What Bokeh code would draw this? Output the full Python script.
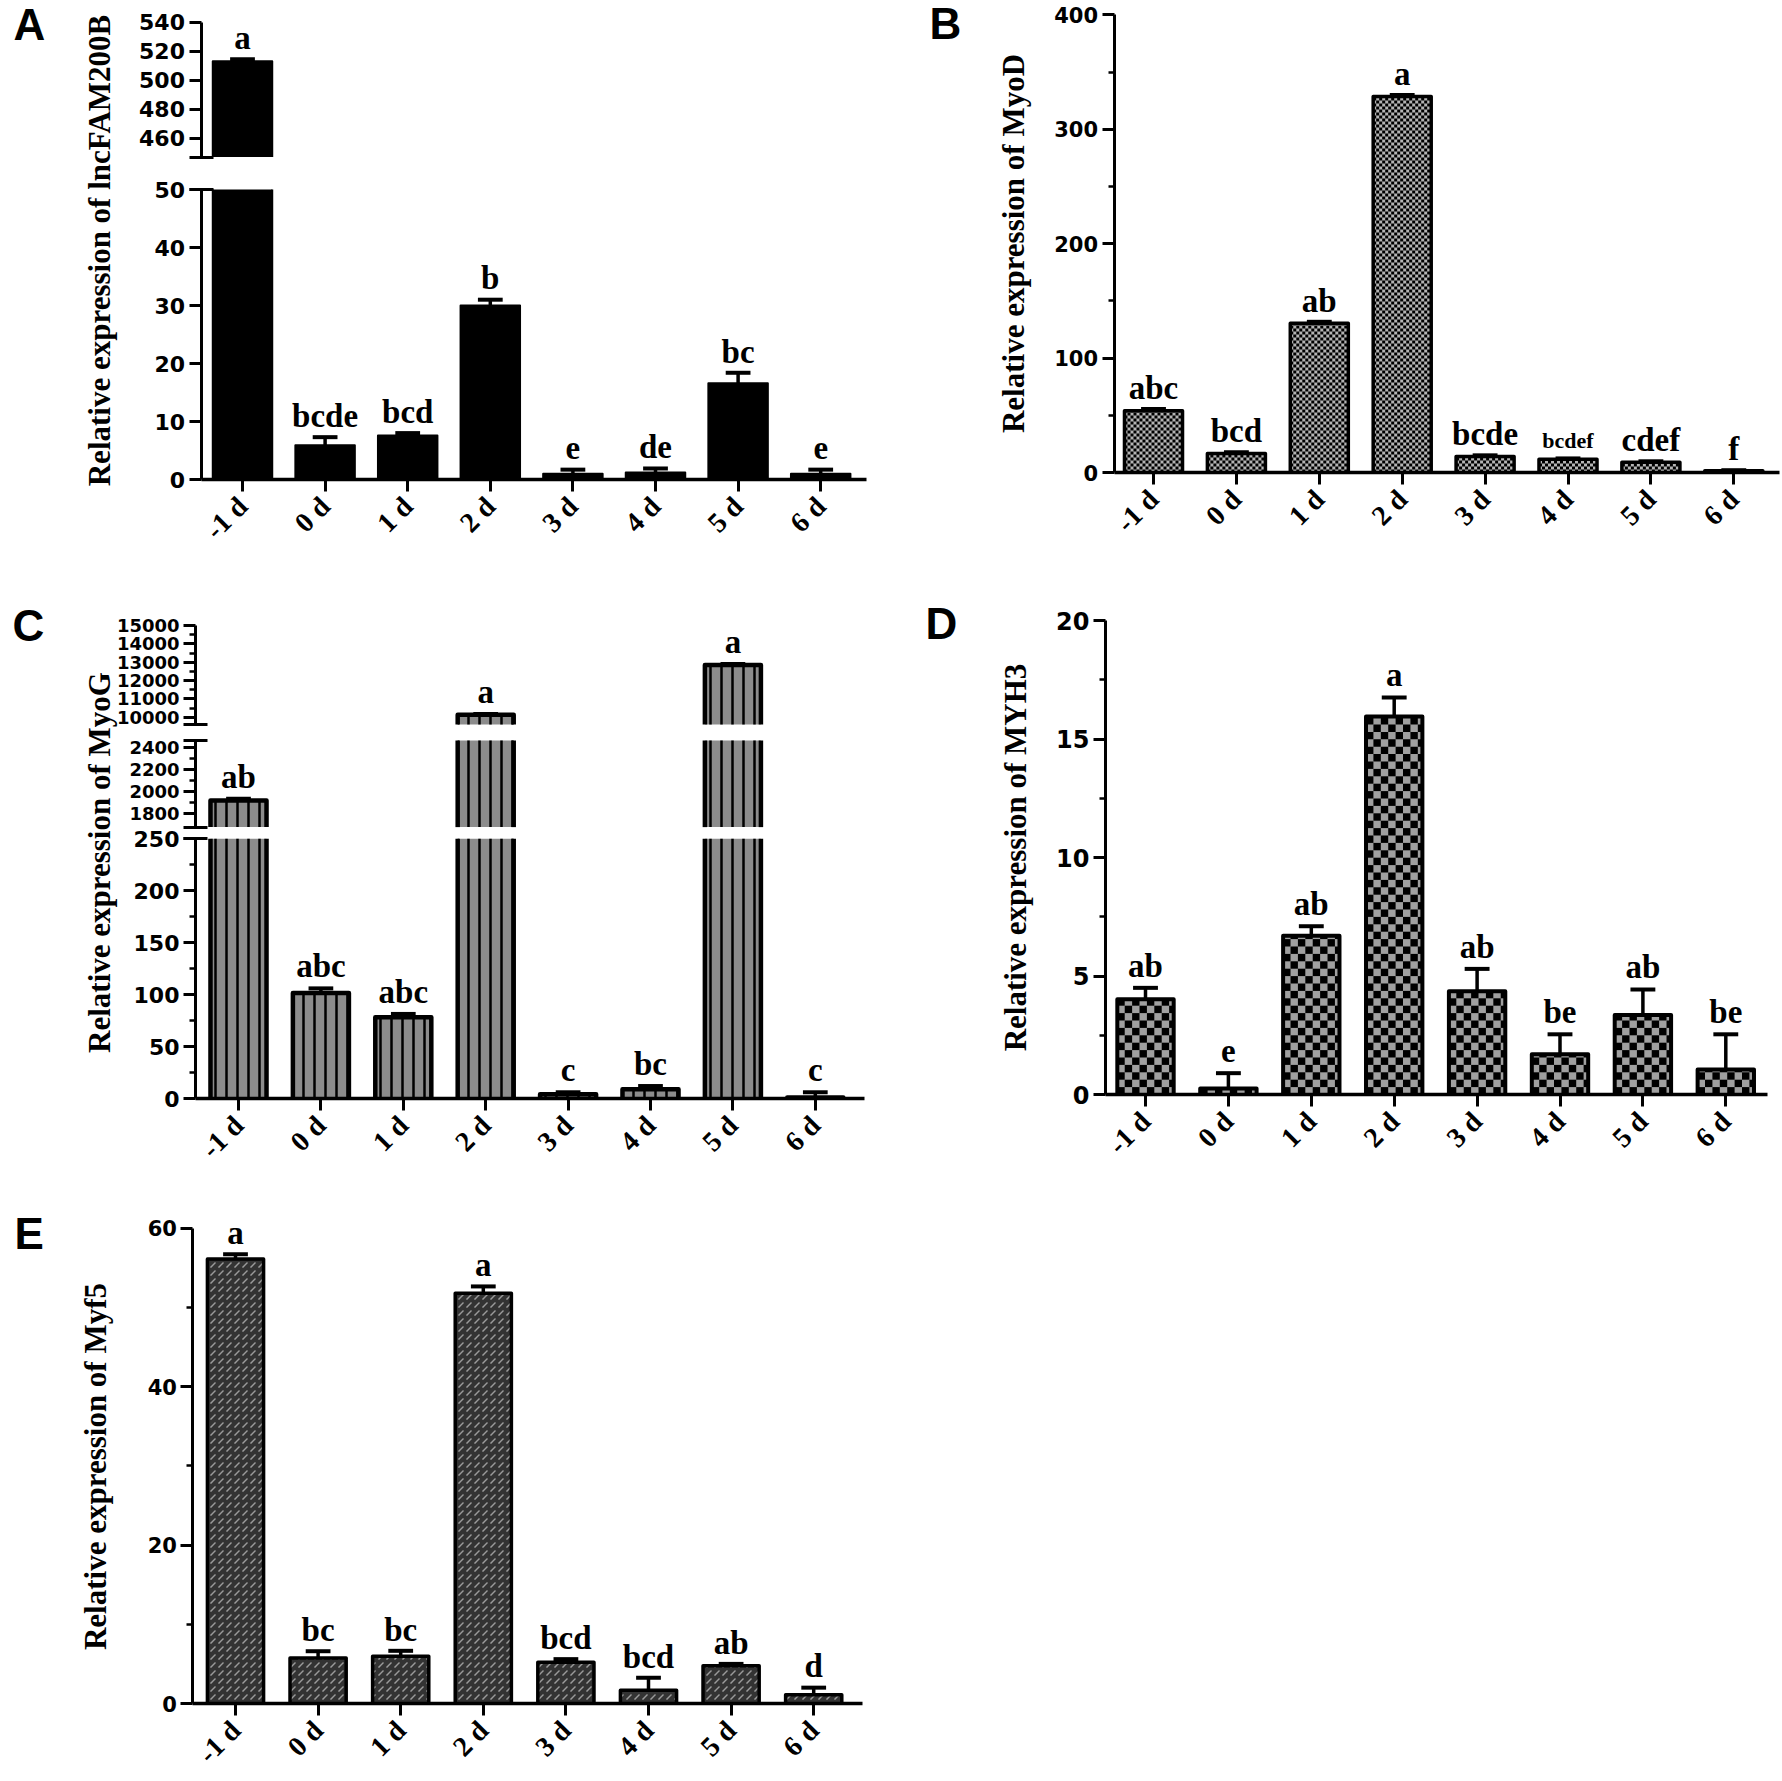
import math
from bokeh.plotting import figure
from bokeh.layouts import row, column
from bokeh.models import Range1d, LinearAxis, FixedTicker, Label, ColumnDataSource
from bokeh.core.properties import value, field
from bokeh.embed import file_html
from bokeh.resources import INLINE

# ---------------- data ----------------
days = ["-1 d", "0 d", "1 d", "2 d", "3 d", "4 d", "5 d", "6 d"]

lnc_mean = [513.0, 5.9, 7.6, 30.0, 1.0, 1.2, 16.6, 1.0]
lnc_sem = [1.5, 1.4, 0.4, 1.0, 0.7, 0.7, 1.8, 0.7]
lnc_letters = ["a", "bcde", "bcd", "b", "e", "de", "bc", "e"]
lnc_ticks_upper = [460, 480, 500, 520, 540]
lnc_ticks_lower = [0, 10, 20, 30, 40, 50]

myod_mean = [54.0, 16.5, 130.5, 328.5, 14.0, 11.5, 9.0, 1.5]
myod_sem = [1.5, 1.2, 1.2, 1.5, 1.0, 0.8, 0.8, 0.5]
myod_letters = ["abc", "bcd", "ab", "a", "bcde", "bcdef", "cdef", "f"]
myod_ticks = [0, 100, 200, 300, 400]
myod_minor = [50, 150, 250, 350]

myog_mean = [1920.0, 101.6, 78.2, 10130.0, 4.0, 9.0, 12850.0, 1.0]
myog_sem = [15.0, 4.4, 3.2, 40.0, 2.0, 3.0, 50.0, 5.0]
myog_letters = ["ab", "abc", "abc", "a", "c", "bc", "a", "c"]
myog_ticks_top = [10000, 11000, 12000, 13000, 14000, 15000]
myog_minor_top = [10500, 11500, 12500, 13500, 14500]
myog_ticks_mid = [1800, 2000, 2200, 2400]
myog_minor_mid = [1900, 2100, 2300]
myog_ticks_low = [0, 50, 100, 150, 200, 250]
myog_minor_low = [25, 75, 125, 175, 225]

myh3_mean = [4.02, 0.25, 6.7, 15.95, 4.36, 1.7, 3.35, 1.05]
myh3_sem = [0.48, 0.65, 0.40, 0.80, 0.94, 0.84, 1.08, 1.49]
myh3_letters = ["ab", "e", "ab", "a", "ab", "be", "ab", "be"]
myh3_ticks = [0, 5, 10, 15, 20]
myh3_minor = [2.5, 7.5, 12.5, 17.5]

myf5_mean = [56.1, 5.74, 5.98, 51.8, 5.2, 1.67, 4.77, 1.1]
myf5_sem = [0.6, 0.86, 0.67, 0.85, 0.4, 1.58, 0.23, 0.9]
myf5_letters = ["a", "bc", "bc", "a", "bcd", "bcd", "ab", "d"]
myf5_ticks = [0, 20, 40, 60]
myf5_minor = [10, 30, 50]

# ---------------- helpers ----------------
SERIF = "Liberation Serif"
SANS = "DejaVu Sans"
HEAD = "Liberation Sans"
MID = 0.34  # distance baseline -> em middle, in em


def ppu(cal):
    v1, y1, v2, y2 = cal
    return (y1 - y2) / (v2 - v1)


def yrange(cal, top, bottom):
    v1, y1, v2, y2 = cal
    k = ppu(cal)
    return Range1d(start=v1 - (bottom - y1) / k, end=v1 + (y1 - top) / k)


def screen_to_y(cal, sy):
    v1, y1, _, _ = cal
    return v1 + (y1 - sy) / ppu(cal)


def build(letter, title, means, sems, sig, segs, L, st):
    fx, fy, W, H = L["box"]
    t0, dx = L["tick0"], L["dx"]

    def to_x(sx):
        return (sx - t0) / dx

    xr = Range1d(start=to_x(fx), end=to_x(fx + W))
    p = figure(width=W, height=H, x_range=xr, y_range=yrange(segs[0]["cal"], fy, fy + H),
               output_backend="svg", toolbar_location=None,
               x_axis_location=None, y_axis_location=None,
               min_border_left=0, min_border_right=0, min_border_top=0, min_border_bottom=0)
    p.outline_line_color = None
    p.grid.visible = False
    if len(segs) > 1:
        p.extra_y_ranges = {s["name"]: yrange(s["cal"], fy, fy + H) for s in segs[1:]}

    axis_x = to_x(L["axis_x"])

    # y axes, one per segment of the broken axis
    for s in segs:
        ax = LinearAxis(y_range_name=s["name"], fixed_location=axis_x,
                        bounds=(s["lo"], s["hi"]),
                        ticker=FixedTicker(ticks=s["ticks"], minor_ticks=s["minor"]),
                        axis_line_width=3, axis_line_color="black",
                        major_tick_line_width=3, major_tick_out=12, major_tick_in=0,
                        minor_tick_line_width=2.5, minor_tick_out=6, minor_tick_in=0,
                        major_label_standoff=4,
                        major_label_text_font=SANS, major_label_text_font_style="bold",
                        major_label_text_font_size=s["fs"], major_label_text_color="black")
        p.add_layout(ax, "left")
        if s.get("breaks"):
            bx = LinearAxis(y_range_name=s["name"], fixed_location=axis_x,
                            bounds=(s["lo"], s["hi"]),
                            ticker=FixedTicker(ticks=s["breaks"], minor_ticks=[]),
                            axis_line_alpha=0, major_tick_line_width=3,
                            major_tick_out=12, major_tick_in=12,
                            minor_tick_line_alpha=0,
                            major_label_overrides={b: "" for b in s["breaks"]})
            p.add_layout(bx, "left")

    # x axis at y = 0
    xa = LinearAxis(fixed_location=0, bounds=(axis_x, to_x(L["x_end"])),
                    ticker=FixedTicker(ticks=list(range(len(days))), minor_ticks=[]),
                    major_label_overrides={i: d for i, d in enumerate(days)},
                    major_label_orientation=math.pi / 4,
                    major_label_text_font=SERIF, major_label_text_font_style="bold",
                    major_label_text_font_size="28px", major_label_text_color="black",
                    major_label_standoff=10,
                    axis_line_width=3.5, axis_line_color="black",
                    major_tick_line_width=3, major_tick_out=12, major_tick_in=0,
                    minor_tick_line_alpha=0)
    p.add_layout(xa, "below")

    w = st["w"]
    fill_kw = dict(fill_color=st["fill"], line_alpha=0)
    if st.get("hatch"):
        fill_kw.update(hatch_pattern=value(st["hatch"]), hatch_scale=st["hscale"],
                       hatch_weight=st.get("hweight", 1.0), hatch_color=st.get("hcolor", "black"))

    def seg_index(v):
        for k, s in enumerate(segs):
            if v <= s["hi"] and (v >= s["lo"] or k == 0):
                return k
        return len(segs) - 1

    for k, s in enumerate(segs):
        xs, bots, tops, ox, oy = [], [], [], [], []
        for i, v in enumerate(means):
            if k > 0 and v <= s["lo"]:
                continue
            bot = s["lo"]
            top = min(v, s["hi"])
            xs.append(i)
            bots.append(bot)
            tops.append(top)
            x0, x1 = i - w / 2, i + w / 2
            if v <= s["hi"]:
                ox.append([x0, x0, x1, x1])
                oy.append([bot, top, top, bot])
            else:
                ox += [[x0, x0], [x1, x1]]
                oy += [[bot, top], [bot, top]]
        if not xs:
            continue
        p.vbar(x=xs, bottom=bots, top=tops, width=w, y_range_name=s["name"], **fill_kw)

        # checkerboard texture (cells of fixed pixel size)
        if st.get("checker"):
            cw = st["checker"] / dx
            ch = st["checker"] / ppu(s["cal"])
            ql, qr, qb, qt = [], [], [], []
            for i, bot, top in zip(xs, bots, tops):
                left, right = i - w / 2, i + w / 2
                ncol = int(math.ceil((right - left) / cw))
                nrow = int(math.ceil((top - bot) / ch))
                for r in range(nrow):
                    for c in range(ncol):
                        if (r + c) % 2 == 0:
                            ql.append(left + c * cw)
                            qr.append(min(left + (c + 1) * cw, right))
                            qb.append(bot + r * ch)
                            qt.append(min(bot + (r + 1) * ch, top))
            p.quad(left=ql, right=qr, bottom=qb, top=qt, y_range_name=s["name"],
                   fill_color="black", line_alpha=0)

        p.multi_line(ox, oy, y_range_name=s["name"], line_color="black",
                     line_width=st["lw"], line_join="round")

        # error bars (upper half)
        ex, ey0, ey1, cx0, cx1 = [], [], [], [], []
        for i, (v, e) in enumerate(zip(means, sems)):
            if seg_index(v) == k:
                ex.append(i); ey0.append(v); ey1.append(v + e)
                cx0.append(i - st["cap"] / 2); cx1.append(i + st["cap"] / 2)
        if ex:
            p.segment(x0=ex, y0=ey0, x1=ex, y1=ey1, y_range_name=s["name"],
                      line_color="black", line_width=3.5)
            p.segment(x0=cx0, y0=ey1, x1=cx1, y1=ey1, y_range_name=s["name"],
                      line_color="black", line_width=4)

    # significance letters, floated a fixed pixel gap above the error bar
    gap = st["gap"]
    for k, s in enumerate(segs):
        tx, ty, tt, tf = [], [], [], []
        for i, (v, e, t) in enumerate(zip(means, sems, sig)):
            if seg_index(v + e) == k:
                size = st["sig_small"] if len(t) >= 5 else st["sig_fs"]
                tx.append(i)
                ty.append(v + e + (gap + MID * size) / ppu(s["cal"]))
                tt.append(t)
                tf.append("%dpx" % size)
        if tx:
            src = ColumnDataSource(dict(x=tx, y=ty, t=tt, fs=tf))
            p.text(x="x", y="y", text="t", source=src, y_range_name=s["name"],
                   text_align="center", text_baseline="middle",
                   text_font=value(SERIF), text_font_style="bold",
                   text_font_size=field("fs"), text_color="black")

    cal0 = segs[0]["cal"]
    tsx, tsy = L["title"]
    p.add_layout(Label(x=to_x(tsx), y=screen_to_y(cal0, tsy),
                       text=title, angle=math.pi / 2, text_align="center",
                       text_baseline="middle", text_font=SERIF, text_font_style="bold",
                       text_font_size="31px", text_color="black"))
    lsx, lsy = L["letter"]
    p.add_layout(Label(x=to_x(lsx), y=screen_to_y(cal0, lsy),
                       text=letter, text_align="left", text_baseline="middle",
                       text_font=HEAD, text_font_style="bold", text_font_size="44px",
                       text_color="black"))
    return p


# ---------------- panels (page pixels) ----------------
segA = [
    dict(name="default", lo=0, hi=50, cal=(0, 479, 50, 189), ticks=lnc_ticks_lower,
         minor=[], fs="22px", breaks=[50]),
    dict(name="upper", lo=447, hi=540, cal=(460, 137.7, 540, 21.7), ticks=lnc_ticks_upper,
         minor=[], fs="22px", breaks=[447]),
]
LA = dict(box=(0, 0, 908, 578), axis_x=200.5, x_end=866, tick0=242, dx=82.6,
          title=(99, 250), letter=(13, 24))
stA = dict(fill="black", lw=2, w=0.72, cap=0.3, gap=10, sig_fs=33, sig_small=22)

segB = [dict(name="default", lo=0, hi=400, cal=(0, 472, 400, 14.3), ticks=myod_ticks,
             minor=myod_minor, fs="21px")]
LB = dict(box=(908, 0, 873, 578), axis_x=1113.6, x_end=1779, tick0=1153, dx=82.9,
          title=(1012.5, 243), letter=(929, 23))
stB = dict(fill="#b4b4b4", checker=3.0, lw=3.5, w=0.70, cap=0.3, gap=10,
           sig_fs=33, sig_small=22)

segC = [
    dict(name="default", lo=0, hi=250, cal=(0, 1098, 250, 838.3), ticks=myog_ticks_low,
         minor=myog_minor_low, fs="22px", breaks=[250]),
    dict(name="mid", lo=1680, hi=2460, cal=(1800, 813.3, 2400, 746.7), ticks=myog_ticks_mid,
         minor=myog_minor_mid, fs="18px", breaks=[1680, 2460]),
    dict(name="top", lo=9600, hi=15000, cal=(10000, 716.7, 15000, 625), ticks=myog_ticks_top,
         minor=myog_minor_top, fs="18px", breaks=[9600]),
]
LC = dict(box=(0, 578, 908, 610), axis_x=195, x_end=864, tick0=238, dx=82.4,
          title=(99, 862), letter=(12, 624.5))
stC = dict(fill="#8c8c8c", hatch="vertical_line", hscale=11, hweight=2.5, lw=4.5, w=0.68,
           cap=0.3, gap=11, sig_fs=33, sig_small=22)

segD = [dict(name="default", lo=0, hi=20, cal=(0, 1094, 20, 620), ticks=myh3_ticks,
             minor=myh3_minor, fs="24px")]
LD = dict(box=(908, 578, 873, 610), axis_x=1105, x_end=1767, tick0=1145, dx=82.9,
          title=(1015, 857), letter=(925, 622.5))
stD = dict(fill="#a0a0a0", checker=7.4, lw=4, w=0.68, cap=0.3, gap=11,
           sig_fs=33, sig_small=22)

segE = [dict(name="default", lo=0, hi=60, cal=(0, 1703, 60, 1227.7), ticks=myf5_ticks,
             minor=myf5_minor, fs="21px")]
LE = dict(box=(0, 1188, 908, 592), axis_x=192.4, x_end=861.5, tick0=235, dx=82.6,
          title=(95, 1466), letter=(14, 1233))
stE = dict(fill="#333333", hatch="right_diagonal_dash", hscale=8, hweight=1.5,
           hcolor="#9a9a9a", lw=3.5, w=0.68, cap=0.3, gap=10, sig_fs=33, sig_small=22)

pA = build("A", "Relative expression of lncFAM200B", lnc_mean, lnc_sem, lnc_letters, segA, LA, stA)
pB = build("B", "Relative expression of MyoD", myod_mean, myod_sem, myod_letters, segB, LB, stB)
pC = build("C", "Relative expression of MyoG", myog_mean, myog_sem, myog_letters, segC, LC, stC)
pD = build("D", "Relative expression of MYH3", myh3_mean, myh3_sem, myh3_letters, segD, LD, stD)
pE = build("E", "Relative expression of Myf5", myf5_mean, myf5_sem, myf5_letters, segE, LE, stE)

layout = column(row(pA, pB, spacing=0), row(pC, pD, spacing=0), pE, spacing=0)

open("out.html", "w").write(file_html(layout, INLINE))
